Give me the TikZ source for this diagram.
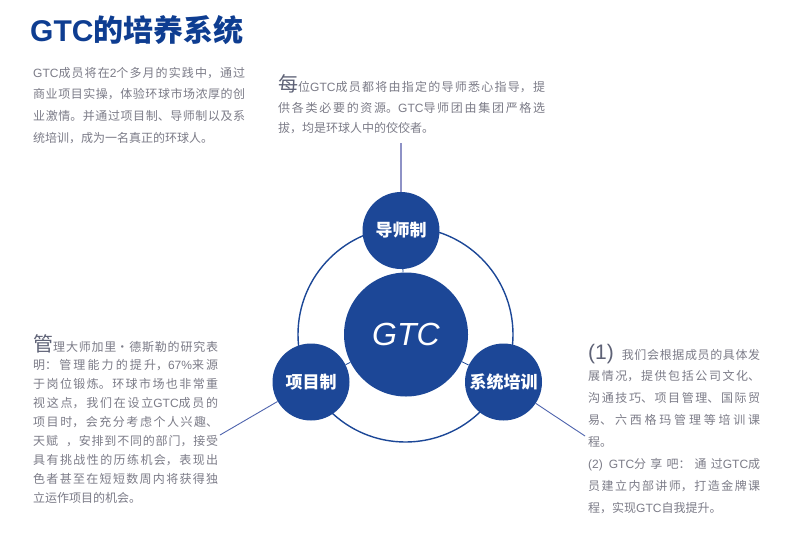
\documentclass[tikz,border=0pt]{standalone}
\usepackage{fontspec}
\setmainfont{Noto Sans CJK SC}
\newfontfamily\gtcfont{Liberation Sans}
\newcommand{\lat}[1]{{\gtcfont #1}}
\XeTeXlinebreaklocale "zh"
\XeTeXlinebreakskip=0pt plus 4pt
\tolerance=9000
\definecolor{circblue}{HTML}{1C4797}
\definecolor{titleblue}{HTML}{0E3D91}
\definecolor{textgray}{HTML}{7C7C88}
\definecolor{biggray}{HTML}{5E6276}
\definecolor{linepurple}{HTML}{8E92C6}
\definecolor{connblue}{HTML}{4F64AE}
\begin{document}
\begin{tikzpicture}[x=1pt,y=-1pt,
  para/.style={anchor=base west, inner sep=0pt, align=justify, text=textgray},
  sat/.style={circle, fill=circblue, minimum size=77pt, inner sep=0pt, text=white, font=\fontsize{17}{17}\selectfont\bfseries},
  spoke/.style={draw=circblue, line width=0.8pt},
  conn/.style={draw=connblue, line width=0.9pt},
  topconn/.style={draw=linepurple, line width=1.4pt}]
\fill[white] (0,0) rectangle (800,547);
\path[use as bounding box] (0,0) rectangle (800,547);
% title
\node[anchor=base west, inner sep=0pt, text=titleblue, font=\fontsize{30}{30}\selectfont\bfseries] (title) at (30,41) {{\gtcfont\bfseries GTC}的培养系统};
% ring and circles
\node[circle, draw=circblue, line width=1.4pt, minimum size=215pt, inner sep=0pt] (ring) at (405.5,334.5) {};
\node[circle, fill=circblue, minimum size=124pt, inner sep=0pt, text=white, font=\gtcfont\itshape\fontsize{32}{32}\selectfont] (gtc) at (406,334.5) {GTC};
\node[sat] (top) at (401,230.5) {导师制};
\node[sat] (left) at (311,382) {项目制};
\node[sat] (right) at (503.5,382) {系统培训};
\draw[spoke] (gtc) -- (top);
\draw[spoke] (gtc) -- (left);
\draw[spoke] (gtc) -- (right);
% connectors
\coordinate (tc) at (401,143);
\coordinate (lc) at (220,435);
\coordinate (rc) at (585,436);
\draw[topconn] (tc) -- (top);
\draw[conn] (lc) -- (left);
\draw[conn] (right) -- (rc);
% paragraphs
\node[para, text width=212pt, font=\fontsize{12}{21.7}\selectfont] (p1) at (33,77) {\lat{GTC}成员将在\lat{2}个多月的实践中，通过\linebreak 商业项目实操，体验环球市场浓厚的创\linebreak 业激情。并通过项目制、导师制以及系\linebreak 统培训，成为一名真正的环球人。};
\node[para, text width=267pt, font=\fontsize{12}{20.5}\selectfont] (p2) at (278,91.5) {{\color{biggray}\fontsize{20}{20}\selectfont 每}位\lat{GTC}成员都将由指定的导师悉心指导，提\linebreak 供各类必要的资源。\lat{GTC}导师团由集团严格选\linebreak 拔，均是环球人中的佼佼者。};
\node[para, text width=185pt, font=\fontsize{12}{18.9}\selectfont] (p3) at (33,351) {{\color{biggray}\fontsize{20}{20}\selectfont 管}理大师加里・德斯勒的研究表\linebreak 明：管理能力的提升，\lat{67\%}来源\linebreak 于岗位锻炼。环球市场也非常重\linebreak 视这点，我们在设立\lat{GTC}成员的\linebreak 项目时，会充分考虑个人兴趣、\linebreak 天赋\hspace{8pt}，安排到不同的部门，接受\linebreak 具有挑战性的历练机会，表现出\linebreak 色者甚至在短短数周内将获得独\linebreak 立运作项目的机会。};
\node[para, text width=172pt, font=\fontsize{12}{21.9}\selectfont] (p4) at (588,359) {{\color{biggray}\gtcfont\fontsize{21}{21}\selectfont (1)}\hspace{8pt}我们会根据成员的具体发\linebreak 展情况，提供包括公司文化、\linebreak 沟通技巧、项目管理、国际贸\linebreak 易、六西格玛管理等培训课\linebreak 程。\par \lat{(2)}\hspace{6pt}\lat{GTC}分享吧：通过\lat{GTC}成\linebreak 员建立内部讲师，打造金牌课\linebreak 程，实现\lat{GTC}自我提升。};
\end{tikzpicture}
\end{document}
